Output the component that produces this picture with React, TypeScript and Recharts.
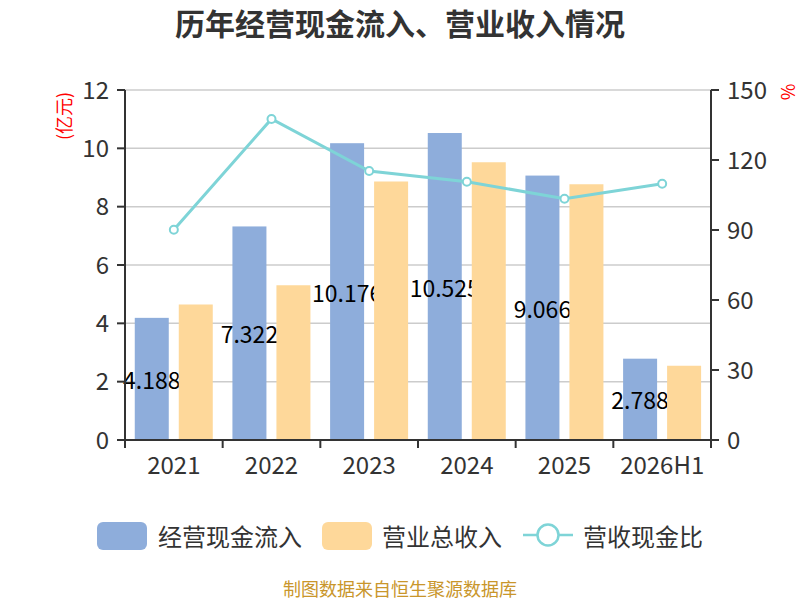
import React from 'react';
import {
  ComposedChart,
  Bar,
  Line,
  XAxis,
  YAxis,
  CartesianGrid,
} from 'recharts';

// Categories and series
const years = ['2021', '2022', '2023', '2024', '2025', '2026H1'];
const cashInflow = [4.188, 7.322, 10.176, 10.525, 9.066, 2.788];
const revenue = [4.65, 5.31, 8.86, 9.52, 8.77, 2.55];
const cashRatio = [90.1, 137.6, 115.3, 110.7, 103.4, 109.8];

const leftTicks = [0, 2, 4, 6, 8, 10, 12];
const rightTicks = [0, 30, 60, 90, 120, 150];

const BLUE = '#8eaddb';
const ORANGE = '#fed89a';
const TEAL = '#7ed4d7';
const FONT = '"Noto Sans CJK SC", "Noto Sans", sans-serif';

const chartData = years.map((year, i) => ({
  year,
  cash: cashInflow[i],
  revenue: revenue[i],
  ratio: cashRatio[i],
}));

const WIDTH = 800;
const HEIGHT = 600;
const MARGIN = { top: 90, right: 29, left: 60, bottom: 120 };
const PLOT_W = WIDTH - MARGIN.left - MARGIN.right - 65 - 60;
const BAND = PLOT_W / years.length;

// x tick: label at category centre, tick marks on category boundaries
const XTick = (props: any) => {
  const { x, y, payload, index } = props;
  const last = index === years.length - 1;
  return (
    <g>
      <line x1={x - BAND / 2} y1={y} x2={x - BAND / 2} y2={y + 8} stroke="#333" strokeWidth={2} />
      {last && <line x1={x + BAND / 2} y1={y} x2={x + BAND / 2} y2={y + 8} stroke="#333" strokeWidth={2} />}
      <text x={x} y={y + 34} textAnchor="middle" fill="#333" fontSize={24} fontFamily={FONT}>
        {payload.value}
      </text>
    </g>
  );
};

// blue bar drawn together with its value, so the orange bars cover the label
const CashBar = (props: any) => {
  const { x, y, width, height, payload } = props;
  return (
    <g>
      <rect x={x} y={y} width={width} height={height} fill={BLUE} />
      <text
        x={x + width / 2}
        y={y + height / 2}
        textAnchor="middle"
        dominantBaseline="central"
        fill="#000"
        fontSize={23}
        fontFamily={FONT}
      >
        {payload.cash}
      </text>
    </g>
  );
};

export default function App() {
  const tick = { fill: '#333', fontSize: 24, fontFamily: FONT };
  const legendText = { position: 'absolute' as const, top: 522, lineHeight: '28px', fontSize: 24, color: '#333', whiteSpace: 'nowrap' as const };

  return (
    <div style={{ position: 'absolute', left: 0, top: 0, width: WIDTH, height: HEIGHT, background: '#fff', fontFamily: FONT }}>
      {/* Title */}
      <div style={{ position: 'absolute', top: 4, width: '100%', textAlign: 'center', fontSize: 30, fontWeight: 'bold', color: '#333', lineHeight: '36px' }}>
        历年经营现金流入、营业收入情况
      </div>

      {/* Axis units */}
      <div style={{ position: 'absolute', left: 63, top: 116, transform: 'translate(-50%, -50%) rotate(-90deg)', color: '#f00', fontSize: 18, whiteSpace: 'nowrap' }}>
        (亿元)
      </div>
      <div style={{ position: 'absolute', left: 787, top: 92, transform: 'translate(-50%, -50%) rotate(-90deg)', color: '#f00', fontSize: 18, whiteSpace: 'nowrap' }}>
        %
      </div>

      <ComposedChart width={WIDTH} height={HEIGHT} data={chartData} margin={MARGIN} barCategoryGap="10%" barGap={10}>
        <CartesianGrid yAxisId="left" vertical={false} stroke="#ccc" strokeWidth={1.5} />
        <XAxis
          dataKey="year"
          height={40}
          tick={<XTick />}
          tickLine={false}
          tickSize={0}
          tickMargin={0}
          axisLine={{ stroke: '#333', strokeWidth: 2 }}
          interval={0}
        />
        <YAxis
          yAxisId="left"
          width={65}
          domain={[0, 12]}
          ticks={leftTicks}
          tick={tick}
          tickSize={8}
          tickMargin={8}
          axisLine={{ stroke: '#333', strokeWidth: 2 }}
          tickLine={{ stroke: '#333', strokeWidth: 2 }}
        />
        <YAxis
          yAxisId="right"
          orientation="right"
          width={60}
          domain={[0, 150]}
          ticks={rightTicks}
          tick={tick}
          tickSize={8}
          tickMargin={8}
          axisLine={{ stroke: '#333', strokeWidth: 2 }}
          tickLine={{ stroke: '#333', strokeWidth: 2 }}
        />
        <Bar yAxisId="left" dataKey="cash" name="经营现金流入" fill={BLUE} shape={<CashBar />} isAnimationActive={false} />
        <Bar yAxisId="left" dataKey="revenue" name="营业总收入" fill={ORANGE} isAnimationActive={false} />
        <Line
          yAxisId="right"
          dataKey="ratio"
          name="营收现金比"
          stroke={TEAL}
          strokeWidth={3}
          dot={{ r: 4, fill: '#fff', stroke: TEAL, strokeWidth: 2 }}
          isAnimationActive={false}
        />
      </ComposedChart>

      {/* Legend */}
      <div style={{ position: 'absolute', left: 97, top: 522, width: 50, height: 28, borderRadius: 6, background: BLUE }} />
      <div style={{ ...legendText, left: 158 }}>经营现金流入</div>
      <div style={{ position: 'absolute', left: 322, top: 522, width: 50, height: 28, borderRadius: 6, background: ORANGE }} />
      <div style={{ ...legendText, left: 382 }}>营业总收入</div>
      <svg style={{ position: 'absolute', left: 522, top: 522 }} width={52} height={28}>
        <line x1={1} y1={13} x2={51} y2={13} stroke={TEAL} strokeWidth={2.5} />
        <circle cx={26} cy={13} r={10.5} fill="#fff" stroke={TEAL} strokeWidth={2.5} />
      </svg>
      <div style={{ ...legendText, left: 583 }}>营收现金比</div>

      {/* Source */}
      <div style={{ position: 'absolute', top: 577, width: '100%', textAlign: 'center', fontSize: 18, color: '#c9962b', lineHeight: '22px' }}>
        制图数据来自恒生聚源数据库
      </div>
    </div>
  );
}
